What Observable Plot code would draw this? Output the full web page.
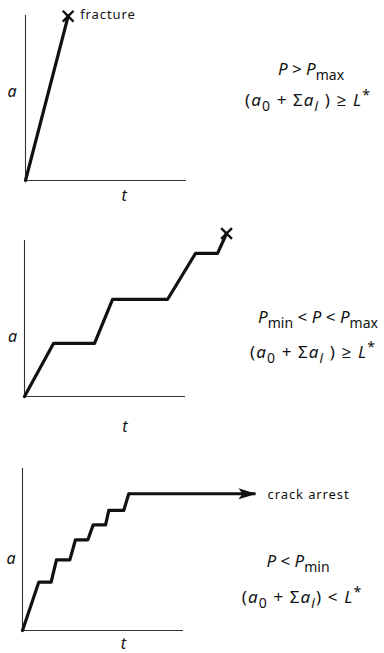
<!DOCTYPE html>
<html>
<head>
<meta charset="utf-8">
<script src="https://cdn.jsdelivr.net/npm/d3@7"></script>
<script src="https://cdn.jsdelivr.net/npm/@observablehq/plot@0.6"></script>
<style>
  body { margin: 0; background: #fff; }
  #wrap { position: relative; width: 384px; height: 653px; overflow: hidden; background: #fff; }
  .panel { position: absolute; left: 0; }
  .eq { position: absolute; white-space: nowrap; font-family: "Noto Sans", "Open Sans", sans-serif;
        font-size: 17px; line-height: 1; color: #111; transform: translateX(-50%); }
  .eq.wide { letter-spacing: 1.1px; }
  .eq i { font-style: italic; }
  .sub { font-size: 14px; vertical-align: -5px; }
  .sup { font-size: 14px; vertical-align: 6px; }
</style>
</head>
<body>
<div id="wrap"></div>
<script>
// ---------- data (t, a in arbitrary units; axes run 0..100) ----------
const axisRange = [0, 100];
const axisLabels = ["a", "t"];

// Panel 1: P > Pmax -> immediate fracture
const fractureT = [0, 26.5];
const fractureA = [0, 99.6];

// Panel 2: Pmin < P < Pmax -> stepwise growth then fracture
const cyclicT = [0, 18.0, 43.5, 54.7, 88.8, 106.2, 119.9, 125.5];
const cyclicA = [0, 34.0, 34.0, 62.2, 62.2, 91.7, 91.7, 104.5];

// Panel 3: P < Pmin -> stepwise growth then crack arrest
const arrestT = [0, 10.1, 17.8, 21.1, 29.4, 32.9, 40.6, 43.9, 51.6, 53.6, 62.9, 66.0];
const arrestA = [0, 29.8, 29.8, 43.6, 43.6, 56.0, 56.0, 65.2, 65.2, 74.1, 74.1, 84.4];
const arrestEndT = 144.7;

const annotations = ["fracture", "crack arrest"];

// ---------- helpers ----------
const ink = "#111";
const font = "Noto Sans, Open Sans, sans-serif";
const pts = (T, A) => T.map((t, i) => ({t, a: A[i]}));

function axesMarks(labelPos) {
  return [
    Plot.ruleX([0], {y1: axisRange[0], y2: axisRange[1], stroke: "#333", strokeWidth: 1.1}),
    Plot.ruleY([0], {x1: axisRange[0], x2: axisRange[1], stroke: "#333", strokeWidth: 1.1}),
    Plot.text([axisLabels[0]], {x: labelPos.a[0], y: labelPos.a[1], fontSize: 16, fontStyle: "italic", fontFamily: font, fill: ink}),
    Plot.text([axisLabels[1]], {x: labelPos.t[0], y: labelPos.t[1], fontSize: 16, fontStyle: "italic", fontFamily: font, fill: ink})
  ];
}

function panel(cfg) {
  const p = Plot.plot({
    width: 384, height: cfg.height,
    marginTop: cfg.mt, marginBottom: cfg.mb, marginLeft: cfg.ml, marginRight: 384 - cfg.xEnd,
    x: {domain: axisRange, axis: null},
    y: {domain: axisRange, axis: null},
    style: {background: "transparent", letterSpacing: "0.9px", overflow: "visible"},
    marks: cfg.marks
  });
  p.classList.add("panel");
  p.style.top = cfg.top + "px";
  return p;
}

const wrap = document.getElementById("wrap");

// Panel 1
const p1 = pts(fractureT, fractureA);
wrap.appendChild(panel({
  top: 0, height: 205, mt: 15, mb: 25, ml: 25, xEnd: 186,
  marks: [
    ...axesMarks({a: [-8.1, 53.5], t: [61.5, -9.5]}),
    Plot.line(p1, {x: "t", y: "a", stroke: ink, strokeWidth: 3.2}),
    Plot.dot(p1.slice(-1), {x: "t", y: "a", symbol: "times", r: 5, stroke: ink, strokeWidth: 2.4}),
    Plot.text([annotations[0]], {x: 34, y: 100.3, textAnchor: "start", fontSize: 13, fontFamily: font, fill: ink})
  ]
}));

// Panel 2
const p2 = pts(cyclicT, cyclicA);
wrap.appendChild(panel({
  top: 205, height: 230, mt: 35, mb: 39, ml: 24, xEnd: 185,
  marks: [
    ...axesMarks({a: [-7.1, 38.5], t: [62.7, -19.5]}),
    Plot.line(p2, {x: "t", y: "a", stroke: ink, strokeWidth: 3.2}),
    Plot.dot(p2.slice(-1), {x: "t", y: "a", symbol: "times", r: 5, stroke: ink, strokeWidth: 2.4})
  ]
}));

// Panel 3
const p3 = pts(arrestT, arrestA);
const last = p3[p3.length - 1];
const svg3 = panel({
  top: 435, height: 218, mt: 33, mb: 23, ml: 22, xEnd: 183,
  marks: [
    ...axesMarks({a: [-6.8, 44], t: [63, -8]}),
    Plot.line(p3, {x: "t", y: "a", stroke: ink, strokeWidth: 3.2}),
    Plot.link([{t1: last.t, a1: last.a, t2: arrestEndT, a2: last.a}],
      {x1: "t1", y1: "a1", x2: "t2", y2: "a2", stroke: ink, strokeWidth: 3.2}),
    Plot.text([annotations[1]], {x: 152.2, y: 83.6, textAnchor: "start", fontSize: 13, fontFamily: font, fill: ink})
  ]
});
wrap.appendChild(svg3);

// filled arrow head on the crack-arrest line
{
  const s = d3.select(svg3);
  const m = s.insert("defs", ":first-child").append("marker")
    .attr("id", "arrowHead").attr("viewBox", "0 0 18 11")
    .attr("refX", 17).attr("refY", 5.5)
    .attr("markerWidth", 18).attr("markerHeight", 11)
    .attr("markerUnits", "userSpaceOnUse").attr("orient", "auto");
  m.append("path").attr("d", "M0,0L18,5.5L0,11L4,5.5Z").attr("fill", ink);
  s.selectAll('g[aria-label="link"] path').attr("marker-end", "url(#arrowHead)");
}

// ---------- condition formulas ----------
const eqs = [
  {x: 311, y: 60, cls: "", html: '<i>P</i> &gt; <i>P</i><span class="sub">max</span>'},
  {x: 308, y: 88, cls: "wide", html: '(<i>a</i><span class="sub">0</span> + Σ<i>a</i><span class="sub"><i>i</i></span> ) ≥ <i>L</i><span class="sup">*</span>'},
  {x: 318, y: 308, cls: "", html: '<i>P</i><span class="sub">min</span> &lt; <i>P</i> &lt; <i>P</i><span class="sub">max</span>'},
  {x: 313, y: 340, cls: "wide", html: '(<i>a</i><span class="sub">0</span> + Σ<i>a</i><span class="sub"><i>i</i></span> ) ≥ <i>L</i><span class="sup">*</span>'},
  {x: 298, y: 552, cls: "", html: '<i>P</i> &lt; <i>P</i><span class="sub">min</span>'},
  {x: 302, y: 585, cls: "wide", html: '(<i>a</i><span class="sub">0</span> + Σ<i>a</i><span class="sub"><i>i</i></span>) &lt; <i>L</i><span class="sup">*</span>'}
];
for (const e of eqs) {
  const d = document.createElement("div");
  d.className = "eq " + e.cls;
  d.style.left = e.x + "px";
  d.style.top = e.y + "px";
  d.innerHTML = e.html;
  wrap.appendChild(d);
}
</script>
</body>
</html>
